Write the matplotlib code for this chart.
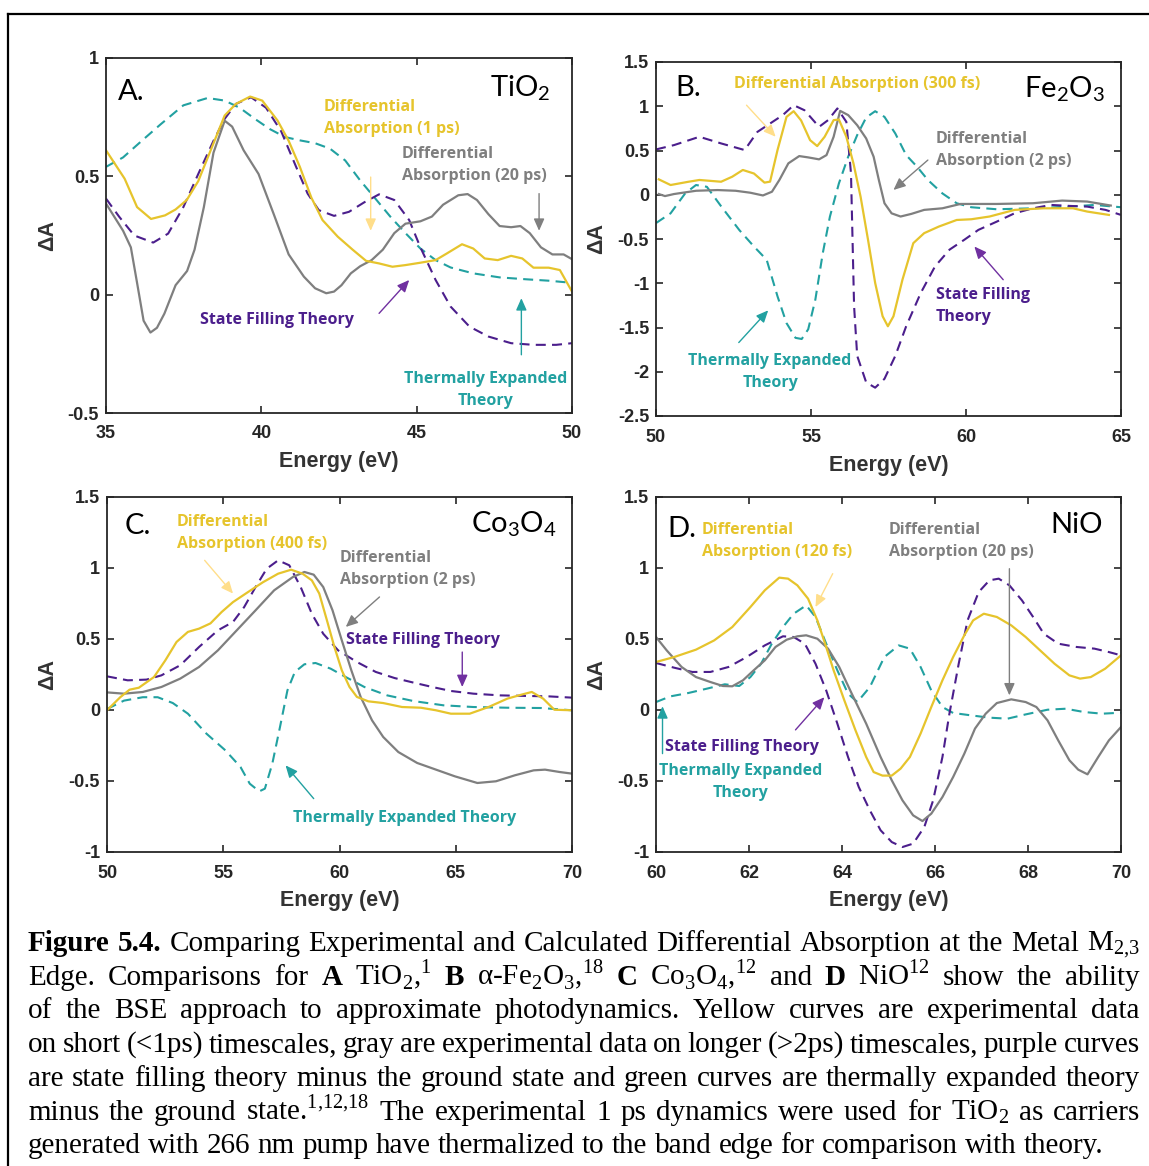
import matplotlib
matplotlib.use("Agg")
import matplotlib.pyplot as plt
from matplotlib.lines import Line2D

# ---- panel A: TiO2 (x in eV, y = differential absorption) ----
a_fast_e = [35.0, 35.6, 36.0, 36.45, 36.9, 37.24, 37.6, 37.97, 38.4, 38.82, 39.18, 39.64, 40.03, 40.52,
            40.88, 41.24, 41.61, 41.97, 42.46, 42.94, 43.37, 43.79, 44.22, 44.64, 45.12, 45.61, 45.97,
            46.46, 46.82, 47.19, 47.61, 48.04, 48.4, 48.76, 49.25, 49.61, 50.0]
a_fast_da = [0.61, 0.49, 0.37, 0.32, 0.335, 0.36, 0.40, 0.48, 0.62, 0.757, 0.806, 0.837, 0.82, 0.736,
             0.65, 0.54, 0.41, 0.315, 0.245, 0.19, 0.143, 0.132, 0.118, 0.125, 0.135, 0.146, 0.174,
             0.213, 0.195, 0.153, 0.146, 0.164, 0.153, 0.114, 0.114, 0.104, 0.013]
a_slow_e = [35.0, 35.55, 35.8, 36.0, 36.21, 36.43, 36.64, 36.88, 37.24, 37.61, 37.85, 38.15, 38.46, 38.82,
            39.06, 39.43, 39.91, 40.40, 40.88, 41.37, 41.73, 42.09, 42.34, 42.58, 42.88, 43.18, 43.55,
            43.91, 44.28, 44.64, 45.12, 45.49, 45.85, 46.34, 46.64, 46.94, 47.31, 47.67, 48.04, 48.34,
            48.64, 49.0, 49.37, 49.73, 50.0]
a_slow_da = [0.385, 0.27, 0.2, 0.05, -0.11, -0.16, -0.14, -0.08, 0.04, 0.10, 0.19, 0.37, 0.6, 0.735,
             0.71, 0.61, 0.51, 0.34, 0.17, 0.076, 0.027, 0.006, 0.013, 0.04, 0.09, 0.12, 0.146,
             0.19, 0.26, 0.30, 0.31, 0.33, 0.38, 0.42, 0.425, 0.40, 0.34, 0.29, 0.285, 0.29,
             0.26, 0.20, 0.17, 0.17, 0.15]
a_fill_e = [35.0, 35.42, 35.91, 36.52, 37.0, 37.49, 37.97, 38.46, 38.82, 39.18, 39.67, 40.15, 40.64, 41.12,
            41.49, 41.85, 42.34, 42.82, 43.31, 43.79, 44.28, 44.76, 45.12, 45.61, 46.09, 46.7, 47.31,
            48.04, 48.76, 49.49, 50.0]
a_fill_da = [0.406, 0.33, 0.25, 0.22, 0.258, 0.37, 0.51, 0.65, 0.743, 0.806, 0.834, 0.79, 0.69, 0.54,
             0.427, 0.357, 0.333, 0.35, 0.39, 0.424, 0.40, 0.315, 0.20, 0.062, -0.05, -0.135, -0.177,
             -0.205, -0.212, -0.212, -0.205]
a_therm_e = [35.0, 35.55, 36.15, 36.76, 37.49, 38.27, 38.82, 39.3, 39.79, 40.27, 40.76, 41.24, 41.73,
             42.21, 42.7, 43.18, 43.67, 44.15, 44.64, 45.12, 45.61, 46.09, 46.82, 47.67, 48.52, 49.25, 50.0]
a_therm_da = [0.54, 0.58, 0.65, 0.72, 0.80, 0.831, 0.82, 0.79, 0.743, 0.70, 0.666, 0.652, 0.64,
              0.617, 0.567, 0.483, 0.406, 0.33, 0.26, 0.195, 0.146, 0.115, 0.09, 0.073, 0.065, 0.059, 0.05]

# ---- panel B: Fe2O3 ----
b_fast_e = [50.09, 50.47, 51.05, 51.4, 52.1, 52.46, 52.8, 53.16, 53.5, 53.68, 53.92, 54.21, 54.44, 54.68,
            54.97, 55.2, 55.44, 55.73, 55.9, 56.14, 56.37, 56.6, 56.84, 57.07, 57.31, 57.48, 57.66, 57.95,
            58.3, 58.65, 59.12, 59.7, 60.17, 60.76, 61.57, 62.51, 63.45, 63.91, 64.61]
b_fast_da = [0.174, 0.11, 0.147, 0.167, 0.147, 0.204, 0.28, 0.24, 0.137, 0.148, 0.505, 0.88, 0.944, 0.84,
             0.617, 0.55, 0.655, 0.843, 0.85, 0.655, 0.354, -0.023, -0.51, -0.997, -1.373, -1.486, -1.373,
             -0.96, -0.547, -0.434, -0.36, -0.285, -0.277, -0.246, -0.171, -0.153, -0.153, -0.19, -0.228]
b_slow_e = [50.09, 50.29, 50.58, 51.29, 51.99, 52.57, 53.04, 53.45, 53.74, 53.98, 54.27, 54.62, 54.91,
            55.26, 55.5, 55.73, 55.94, 56.2, 56.49, 56.78, 57.02, 57.19, 57.37, 57.6, 57.89, 58.24, 58.65,
            59.24, 59.82, 60.99, 62.16, 63.1, 63.91, 64.67]
b_slow_da = [0.008, -0.015, 0.008, 0.045, 0.053, 0.045, 0.023, -0.008, 0.034, 0.167, 0.355, 0.437, 0.422,
             0.40, 0.448, 0.655, 0.948, 0.90, 0.786, 0.636, 0.43, 0.165, -0.096, -0.21, -0.246, -0.216,
             -0.171, -0.153, -0.104, -0.104, -0.096, -0.066, -0.077, -0.122]
b_fill_e = [50.0, 50.58, 51.4, 52.1, 52.86, 53.27, 53.68, 54.09, 54.44, 54.79, 55.26, 55.55, 55.85, 56.14,
            56.29, 56.34, 56.39, 56.49, 56.78, 57.07, 57.37, 57.72, 58.07, 58.54, 59.0, 59.47, 59.94,
            60.4, 60.99, 61.57, 62.16, 62.74, 63.33, 63.91, 64.5, 65.0]
b_fill_da = [0.512, 0.561, 0.655, 0.58, 0.505, 0.71, 0.805, 0.9, 1.012, 0.955, 0.767, 0.843, 0.975, 0.824,
             0.242, -0.51, -1.26, -1.82, -2.12, -2.18, -2.08, -1.82, -1.486, -1.11, -0.81, -0.62, -0.51,
             -0.397, -0.304, -0.209, -0.153, -0.115, -0.126, -0.134, -0.171, -0.228]
b_therm_e = [50.0, 50.47, 50.94, 51.29, 51.64, 52.1, 52.69, 53.16, 53.57, 53.92, 54.21, 54.5, 54.7, 54.91,
             55.14, 55.38, 55.61, 55.9, 56.2, 56.49, 56.78, 57.07, 57.37, 57.72, 58.07, 58.42, 58.77,
             59.24, 59.7, 60.17, 60.99, 62.16, 63.33, 64.15, 65.0]
b_therm_da = [-0.32, -0.21, 0.015, 0.11, 0.09, -0.13, -0.4, -0.585, -0.735, -1.148, -1.45, -1.617, -1.63,
              -1.52, -1.185, -0.66, -0.247, 0.128, 0.43, 0.674, 0.873, 0.944, 0.88, 0.692, 0.448, 0.317,
              0.167, 0.015, -0.096, -0.141, -0.164, -0.153, -0.134, -0.115, -0.141]

# ---- panel C: Co3O4 ----
c_fast_e = [50.0, 50.57, 50.97, 51.37, 52.02, 52.51, 52.99, 53.48, 53.96, 54.45, 54.93, 55.42, 56.06,
            56.71, 57.36, 57.92, 58.41, 58.81, 59.13, 59.46, 59.78, 60.1, 60.43, 60.75, 61.24, 61.88,
            62.69, 63.5, 64.15, 64.79, 65.6, 66.41, 67.22, 67.87, 68.27, 68.76, 69.24, 70.0]
c_fast_da = [-0.002, 0.09, 0.143, 0.157, 0.232, 0.35, 0.479, 0.55, 0.573, 0.61, 0.69, 0.76, 0.83,
             0.90, 0.96, 0.988, 0.96, 0.913, 0.82, 0.631, 0.444, 0.279, 0.162, 0.092, 0.061, 0.049,
             0.021, 0.016, -0.002, -0.026, -0.026, 0.021, 0.08, 0.11, 0.127, 0.08, 0.002, -0.002]
c_slow_e = [50.0, 50.73, 51.54, 52.34, 53.15, 53.96, 54.77, 55.58, 56.39, 57.19, 58.0, 58.49, 58.89,
            59.3, 59.7, 60.1, 60.51, 60.91, 61.4, 61.88, 62.53, 63.34, 64.15, 64.96, 65.93, 66.73,
            67.54, 68.35, 68.84, 69.48, 70.0]
c_slow_da = [0.124, 0.115, 0.127, 0.162, 0.221, 0.303, 0.42, 0.561, 0.702, 0.843, 0.937, 0.972, 0.953,
             0.866, 0.702, 0.49, 0.279, 0.092, -0.073, -0.19, -0.296, -0.373, -0.42, -0.467, -0.514,
             -0.502, -0.46, -0.425, -0.42, -0.437, -0.448]
c_fill_e = [50.0, 50.89, 51.7, 52.34, 53.15, 53.96, 54.77, 55.42, 55.9, 56.39, 56.87, 57.36, 57.84,
            58.33, 58.81, 59.3, 59.94, 60.75, 61.56, 62.37, 63.18, 63.99, 64.79, 65.76, 66.9, 68.03,
            69.0, 70.0]
c_fill_da = [0.237, 0.209, 0.214, 0.244, 0.315, 0.444, 0.561, 0.62, 0.725, 0.866, 0.995, 1.054, 1.019,
             0.866, 0.678, 0.537, 0.42, 0.338, 0.268, 0.225, 0.193, 0.162, 0.134, 0.115, 0.103, 0.099,
             0.096, 0.087]
c_therm_e = [50.0, 50.73, 51.54, 52.18, 52.83, 53.48, 54.28, 55.09, 55.74, 56.14, 56.55, 56.79, 57.11,
             57.44, 57.76, 58.08, 58.49, 58.97, 59.62, 60.27, 61.07, 62.05, 63.18, 64.47, 65.76, 67.22,
             68.67, 70.0]
c_therm_da = [0.007, 0.066, 0.09, 0.09, 0.049, -0.026, -0.167, -0.284, -0.401, -0.519, -0.573, -0.554,
              -0.378, -0.12, 0.138, 0.268, 0.322, 0.331, 0.291, 0.232, 0.162, 0.103, 0.063, 0.033,
              0.021, 0.016, 0.014, -0.002]

# ---- panel D: NiO ----
d_fast_e = [60.0, 60.39, 60.86, 61.25, 61.64, 62.03, 62.34, 62.65, 62.84, 63.04, 63.27, 63.47, 63.66,
            63.82, 64.05, 64.29, 64.52, 64.68, 64.87, 65.07, 65.26, 65.46, 65.69, 65.92, 66.16, 66.39,
            66.63, 66.82, 67.05, 67.33, 67.64, 67.95, 68.26, 68.57, 68.89, 69.12, 69.35, 69.66, 70.0]
d_fast_da = [0.338, 0.373, 0.425, 0.49, 0.584, 0.725, 0.843, 0.932, 0.925, 0.878, 0.784, 0.631, 0.444,
             0.279, 0.068, -0.143, -0.331, -0.437, -0.462, -0.462, -0.413, -0.331, -0.166, 0.021, 0.209,
             0.373, 0.526, 0.631, 0.678, 0.655, 0.596, 0.514, 0.42, 0.326, 0.244, 0.221, 0.232, 0.291, 0.385]
d_slow_e = [60.0, 60.23, 60.55, 60.86, 61.17, 61.44, 61.64, 61.87, 62.1, 62.34, 62.57, 62.81, 63.04,
            63.23, 63.47, 63.7, 63.94, 64.21, 64.52, 64.83, 65.07, 65.3, 65.53, 65.73, 65.92, 66.16,
            66.39, 66.63, 66.86, 67.09, 67.33, 67.64, 67.95, 68.18, 68.42, 68.65, 68.89, 69.08, 69.28,
            69.51, 69.74, 70.0]
d_slow_da = [0.514, 0.42, 0.303, 0.232, 0.197, 0.169, 0.167, 0.209, 0.279, 0.35, 0.444, 0.495, 0.519,
             0.526, 0.502, 0.432, 0.303, 0.115, -0.096, -0.331, -0.495, -0.636, -0.742, -0.782, -0.73,
             -0.613, -0.472, -0.308, -0.131, -0.026, 0.049, 0.075, 0.056, 0.021, -0.073, -0.214, -0.354,
             -0.42, -0.453, -0.331, -0.214, -0.12]
d_fill_e = [60.0, 60.39, 60.78, 61.17, 61.56, 61.95, 62.34, 62.73, 62.96, 63.2, 63.43, 63.66, 63.9,
            64.13, 64.36, 64.6, 64.83, 65.07, 65.3, 65.53, 65.77, 65.96, 66.16, 66.31, 66.51, 66.7,
            66.94, 67.17, 67.37, 67.6, 67.87, 68.11, 68.34, 68.65, 69.04, 69.43, 69.74, 70.0]
d_fill_da = [0.331, 0.298, 0.268, 0.268, 0.303, 0.373, 0.455, 0.519, 0.514, 0.467, 0.326, 0.138, -0.096,
             -0.331, -0.542, -0.707, -0.847, -0.93, -0.965, -0.941, -0.824, -0.636, -0.331, -0.026,
             0.326, 0.631, 0.831, 0.913, 0.925, 0.878, 0.772, 0.655, 0.537, 0.467, 0.444, 0.432, 0.408, 0.385]
d_therm_e = [60.0, 60.31, 60.7, 61.09, 61.48, 61.79, 62.03, 62.26, 62.49, 62.73, 62.96, 63.23, 63.43,
             63.66, 63.9, 64.13, 64.33, 64.6, 64.91, 65.22, 65.46, 65.69, 65.92, 66.16, 66.39, 66.78,
             67.17, 67.56, 67.95, 68.42, 68.81, 69.2, 69.59, 70.0]
d_therm_da = [0.056, 0.096, 0.12, 0.15, 0.181, 0.169, 0.232, 0.326, 0.467, 0.584, 0.678, 0.737, 0.655,
              0.467, 0.279, 0.115, 0.056, 0.162, 0.373, 0.455, 0.432, 0.303, 0.138, 0.021, -0.021,
              -0.038, -0.054, -0.061, -0.031, 0.002, 0.009, -0.014, -0.026, -0.019]

caption_lines = [
    "**Figure **5.4. Comparing Experimental and Calculated Differential Absorption at the Metal M$_{2{,}3}$",
    "Edge. Comparisons for **A TiO$_2$,$^1$ **B α-Fe$_2$O$_3$,$^{18}$ **C Co$_3$O$_4$,$^{12}$ and **D NiO$^{12}$ show the ability",
    "of the BSE approach to approximate photodynamics. Yellow curves are experimental data",
    "on short (<1ps) timescales, gray are experimental data on longer (>2ps) timescales, purple curves",
    "are state filling theory minus the ground state and green curves are thermally expanded theory",
    "minus the ground state.$^{1{,}12{,}18}$ The experimental 1 ps dynamics were used for TiO$_2$ as carriers",
    "generated with 266 nm pump have thermalized to the band edge for comparison with theory.",
]

YELLOW = "#E6C42C"
GRAY = "#7F7F7F"
PURPLE = "#4B1E8C"
TEAL = "#22A1A1"
PALE_YELLOW = "#FFDE8A"
ARROW_PURPLE = "#7030A0"
INK = "#262626"

plt.rcParams["font.family"] = ["Liberation Sans", "DejaVu Sans"]
plt.rcParams["axes.unicode_minus"] = False
plt.rcParams["mathtext.fontset"] = "custom"
plt.rcParams["mathtext.rm"] = "Liberation Serif"
plt.rcParams["mathtext.sf"] = "Lato"

W, H = 1149, 1166
fig = plt.figure(figsize=(W / 100, H / 100), dpi=100)
fig.patch.set_facecolor("white")

DASH = (0, (4.8, 3))
NOTE = dict(family="Open Sans", weight="bold", fontsize=11.5, linespacing=1.5)


def make_axes(left, top, right, bottom):
    return fig.add_axes([left / W, 1 - bottom / H, (right - left) / W, (bottom - top) / H])


def style_axes(ax, xlim, ylim, xticks, yticks, xlab_y, ylab_x):
    ax.set_xlim(xlim)
    ax.set_ylim(ylim)
    ax.set_xticks(xticks)
    ax.set_yticks(yticks)
    ax.set_xticklabels([f"{v:g}" for v in xticks], fontweight="bold")
    ax.set_yticklabels([f"{v:g}" for v in yticks], fontweight="bold")
    ax.tick_params(direction="in", top=True, right=True, length=5, width=1.2,
                   labelsize=13, colors=INK)
    ax.tick_params(axis="x", pad=9)
    ax.tick_params(axis="y", pad=5)
    for sp in ax.spines.values():
        sp.set_linewidth(1.3)
        sp.set_color(INK)
    ax.set_xlabel("Energy (eV)", fontsize=15.5, fontweight="bold", color="#333333", va="center")
    ax.xaxis.set_label_coords(0.5, xlab_y)
    ax.set_ylabel("ΔA", fontsize=15.5, fontweight="bold", color="#333333", va="center")
    ax.yaxis.set_label_coords(ylab_x, 0.5)


def plot_curves(ax, therm, fill, slow, fast):
    ax.plot(*therm, color=TEAL, lw=1.5, ls=DASH)
    ax.plot(*fill, color=PURPLE, lw=1.5, ls=DASH)
    ax.plot(*slow, color=GRAY, lw=1.6)
    ax.plot(*fast, color=YELLOW, lw=1.6)


def arrow(ax, start, end, color):
    ax.annotate("", xy=end, xytext=start,
                arrowprops=dict(arrowstyle="-|>,head_length=0.45,head_width=0.2",
                                color=color, lw=1.0, shrinkA=0, shrinkB=0, mutation_scale=16))


def panel_titles(ax, letter, letter_xy, formula, formula_xy):
    ax.text(*letter_xy, letter, family="Lato", fontsize=21,
            ha="left", va="baseline", color="black")
    ax.text(*formula_xy, formula, family="Lato", fontsize=21,
            ha="right", va="baseline", color="black")


# panel A
ax = make_axes(106, 58, 572, 413)
plot_curves(ax, (a_therm_e, a_therm_da), (a_fill_e, a_fill_da),
            (a_slow_e, a_slow_da), (a_fast_e, a_fast_da))
style_axes(ax, (35, 50), (-0.5, 1), [35, 40, 45, 50], [-0.5, 0, 0.5, 1], -0.138, -0.125)
panel_titles(ax, "A.", (35.39, 0.824), r"TiO$_{\mathsf{2}}$", (49.29, 0.838))
ax.text(42.02, 0.748, "Differential\nAbsorption (1 ps)", color=YELLOW, ha="left", va="center", **NOTE)
ax.text(44.53, 0.547, "Differential\nAbsorption (20 ps)", color=GRAY, ha="left", va="center", **NOTE)
ax.text(38.03, -0.106, "State Filling Theory", color=PURPLE, ha="left", va="center", **NOTE)
ax.text(47.23, -0.403, "Thermally Expanded\nTheory", color=TEAL, ha="center", va="center",
        multialignment="center", **NOTE)
arrow(ax, (43.52, 0.497), (43.52, 0.27), PALE_YELLOW)
arrow(ax, (48.94, 0.427), (48.94, 0.27), GRAY)
arrow(ax, (43.79, -0.079), (44.76, 0.062), ARROW_PURPLE)
arrow(ax, (48.37, -0.254), (48.37, -0.015), TEAL)

# panel B
ax = make_axes(656, 62, 1121, 416)
plot_curves(ax, (b_therm_e, b_therm_da), (b_fill_e, b_fill_da),
            (b_slow_e, b_slow_da), (b_fast_e, b_fast_da))
style_axes(ax, (50, 65), (-2.5, 1.5), [50, 55, 60, 65],
           [-2.5, -2, -1.5, -1, -0.5, 0, 0.5, 1, 1.5], -0.141, -0.127)
panel_titles(ax, "B.", (50.61, 1.111), r"Fe$_{\mathsf{2}}$O$_{\mathsf{3}}$", (64.48, 1.107))
ax.text(52.52, 1.254, "Differential Absorption (300 fs)", color=YELLOW, ha="left", va="center", **NOTE)
ax.text(59.03, 0.503, "Differential\nAbsorption (2 ps)", color=GRAY, ha="left", va="center", **NOTE)
ax.text(59.03, -1.26, "State Filling\nTheory", color=PURPLE, ha="left", va="center", **NOTE)
ax.text(53.68, -2.006, "Thermally Expanded\nTheory", color=TEAL, ha="center", va="center",
        multialignment="center", **NOTE)
arrow(ax, (52.92, 1.012), (53.86, 0.655), PALE_YELLOW)
arrow(ax, (58.77, 0.392), (57.66, 0.054), GRAY)
arrow(ax, (61.2, -0.96), (60.27, -0.585), ARROW_PURPLE)
arrow(ax, (52.67, -1.67), (53.62, -1.306), TEAL)

# panel C
ax = make_axes(107, 497, 572, 852)
plot_curves(ax, (c_therm_e, c_therm_da), (c_fill_e, c_fill_da),
            (c_slow_e, c_slow_da), (c_fast_e, c_fast_da))
style_axes(ax, (50, 70), (-1, 1.5), [50, 55, 60, 65, 70],
           [-1, -0.5, 0, 0.5, 1, 1.5], -0.138, -0.127)
panel_titles(ax, "C.", (50.77, 1.239), r"Co$_{\mathsf{3}}$O$_{\mathsf{4}}$", (69.35, 1.249))
ax.text(53.01, 1.243, "Differential\nAbsorption (400 fs)", color=YELLOW, ha="left", va="center", **NOTE)
ax.text(60.02, 0.996, "Differential\nAbsorption (2 ps)", color=GRAY, ha="left", va="center", **NOTE)
ax.text(60.28, 0.493, "State Filling Theory", color=PURPLE, ha="left", va="center", **NOTE)
ax.text(58.0, -0.76, "Thermally Expanded Theory", color=TEAL, ha="left", va="center", **NOTE)
arrow(ax, (54.2, 1.054), (55.42, 0.82), PALE_YELLOW)
arrow(ax, (61.72, 0.796), (60.27, 0.585), GRAY)
arrow(ax, (65.28, 0.408), (65.28, 0.162), ARROW_PURPLE)
arrow(ax, (58.89, -0.624), (57.68, -0.39), TEAL)

# panel D
ax = make_axes(656, 497, 1121, 852)
plot_curves(ax, (d_therm_e, d_therm_da), (d_fill_e, d_fill_da),
            (d_slow_e, d_slow_da), (d_fast_e, d_fast_da))
style_axes(ax, (60, 70), (-1, 1.5), [60, 62, 64, 66, 68, 70],
           [-1, -0.5, 0, 0.5, 1, 1.5], -0.138, -0.127)
panel_titles(ax, "D.", (60.24, 1.218), "NiO", (69.61, 1.249))
ax.text(60.99, 1.19, "Differential\nAbsorption (120 fs)", color=YELLOW, ha="left", va="center", **NOTE)
ax.text(65.01, 1.19, "Differential\nAbsorption (20 ps)", color=GRAY, ha="left", va="center", **NOTE)
ax.text(60.19, -0.26, "State Filling Theory", color=PURPLE, ha="left", va="center", **NOTE)
ax.text(61.81, -0.51, "Thermally Expanded\nTheory", color=TEAL, ha="center", va="center",
        multialignment="center", **NOTE)
arrow(ax, (63.8, 0.96), (63.43, 0.725), PALE_YELLOW)
arrow(ax, (67.6, 0.995), (67.6, 0.103), GRAY)
arrow(ax, (63.0, -0.14), (63.62, 0.09), ARROW_PURPLE)
arrow(ax, (60.14, -0.307), (60.14, 0.026), TEAL)

# frame around the figure block (top and left edges)
fig.add_artist(Line2D([8 / W, 1], [1 - 14 / H, 1 - 14 / H], color="black", lw=1.6))
fig.add_artist(Line2D([8 / W, 8 / W], [0, 1 - 14 / H], color="black", lw=1.6))


# justified caption, one Text per word; the size shrinks if a line would overflow
def draw_caption(lines, x0, x1, y0, dy, size, min_gap=5.0):
    renderer = fig.canvas.get_renderer()
    rows = []
    for i, line in enumerate(lines):
        words = []
        for w in line.split(" "):
            bold = w.startswith("**")
            t = fig.text(0, 1 - (y0 + i * dy) / H, w.replace("**", ""), fontsize=size,
                         family="Liberation Serif", weight="bold" if bold else "normal",
                         ha="left", va="baseline", color="black")
            words.append(t)
        rows.append(words)

    scale = 1.0
    for words in rows[:-1]:
        total = sum(t.get_window_extent(renderer).width for t in words)
        need = total + (len(words) - 1) * min_gap
        scale = min(scale, (x1 - x0) / need)
    if scale < 1.0:
        for words in rows:
            for t in words:
                t.set_fontsize(size * scale)
        size *= scale

    space = fig.text(0, 0, "a b", fontsize=size, family="Liberation Serif")
    pair = fig.text(0, 0, "ab", fontsize=size, family="Liberation Serif")
    natural_gap = space.get_window_extent(renderer).width - pair.get_window_extent(renderer).width
    space.remove()
    pair.remove()
    for i, words in enumerate(rows):
        widths = [t.get_window_extent(renderer).width for t in words]
        if i == len(rows) - 1:
            gap = natural_gap
        else:
            gap = (x1 - x0 - sum(widths)) / (len(words) - 1)
        x = x0
        for t, w in zip(words, widths):
            t.set_x(x / W)
            x += w + gap


draw_caption(caption_lines, 28, 1140, 951, 33.7, 21)

fig.savefig("out.png", dpi=100, facecolor="white")
